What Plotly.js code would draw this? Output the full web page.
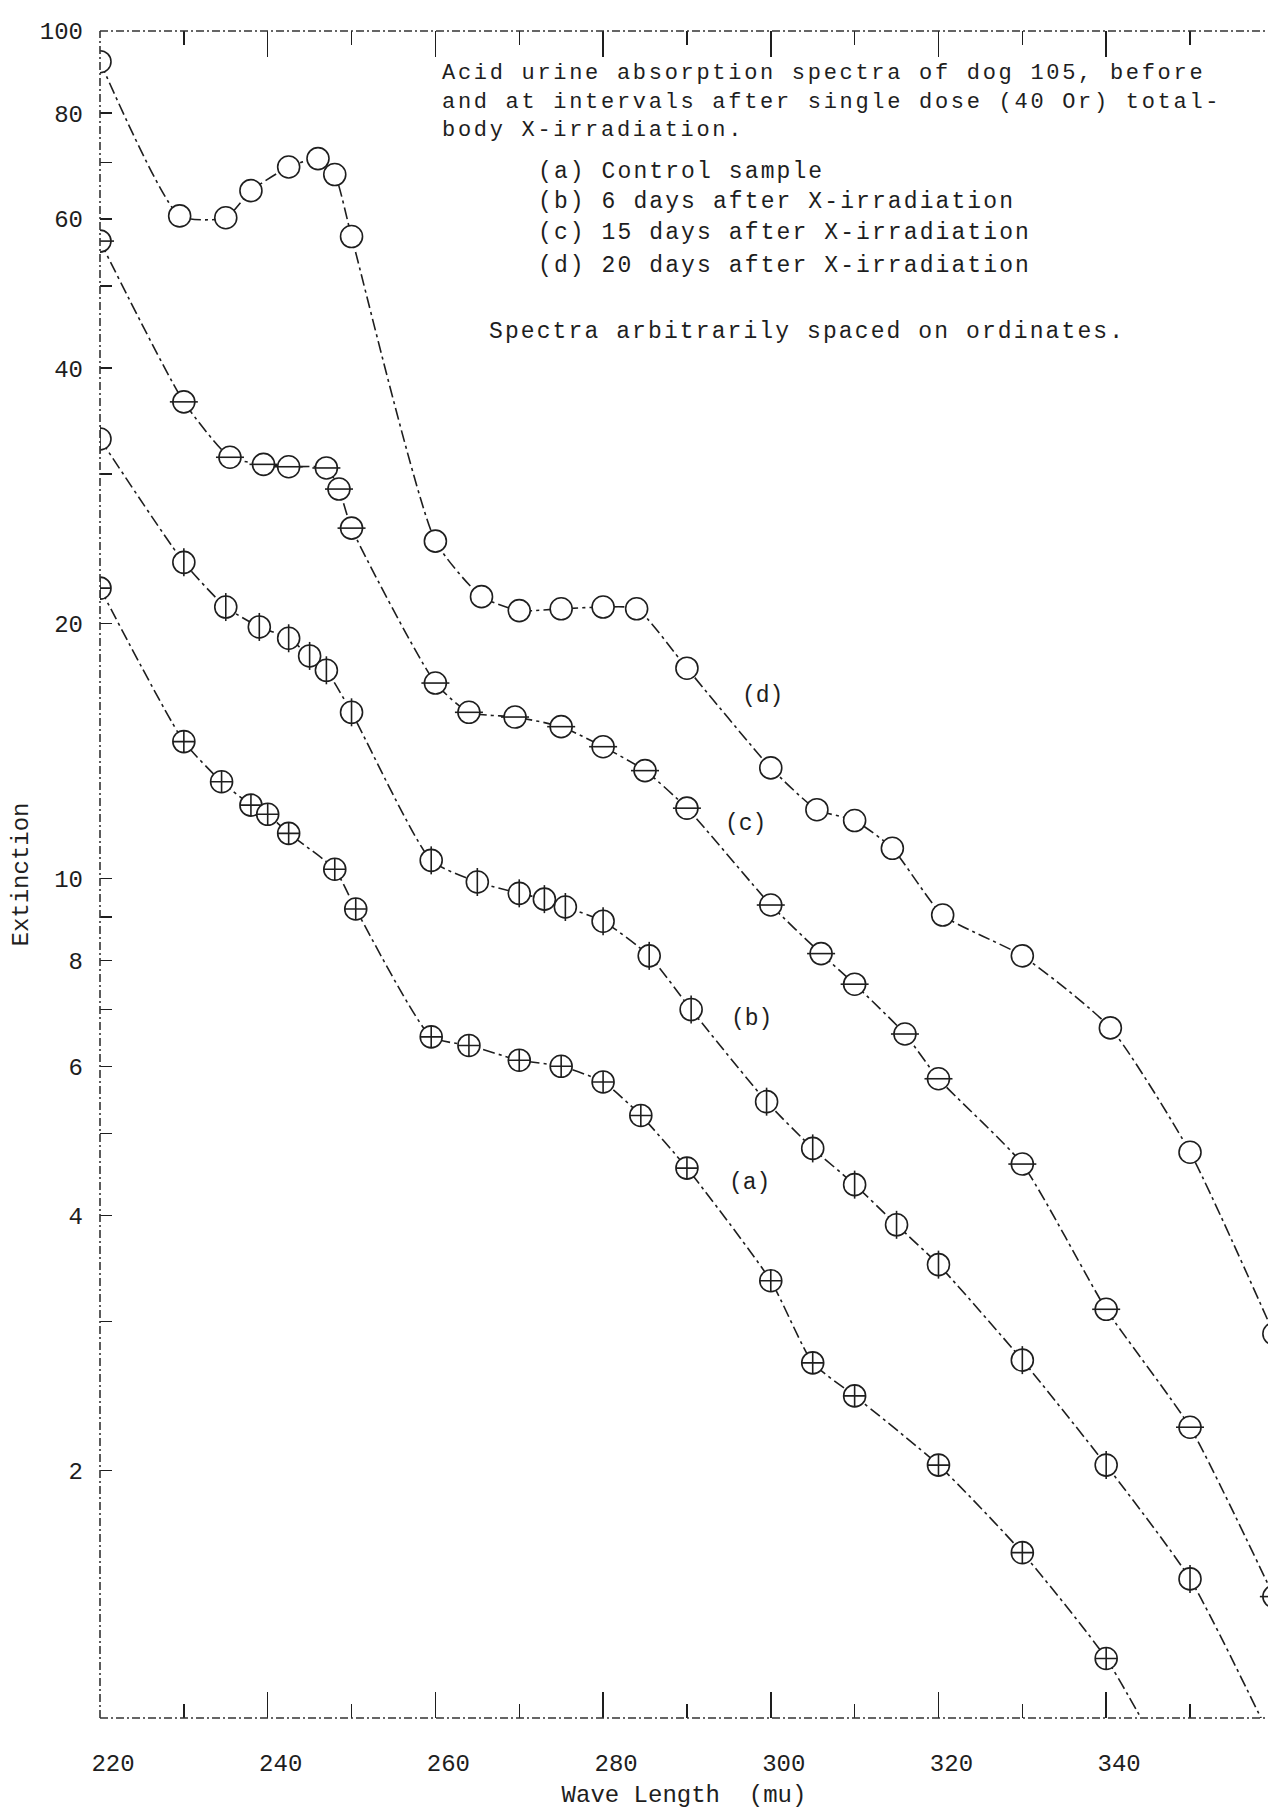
<!DOCTYPE html>
<html>
<head>
<meta charset="utf-8">
<script src="https://cdn.plot.ly/plotly-3.0.1.min.js"></script>
<style>
  html, body { margin: 0; padding: 0; background: #fff; }
  #chart { width: 1268px; height: 1809px; }
</style>
</head>
<body>
<div id="chart"></div>
<script>
// ---- data (wavelength in mu, extinction) ----
const wlA = [220, 230, 234.5, 238, 240, 242.5, 248, 250.5, 259.5, 264, 270, 275, 280, 284.5, 290, 300, 305, 310, 320, 330, 340, 350];
const extA = [22.0, 14.5, 13.0, 12.2, 11.9, 11.3, 10.25, 9.2, 6.5, 6.35, 6.1, 6.0, 5.75, 5.25, 4.55, 3.35, 2.68, 2.45, 2.03, 1.60, 1.20, 0.8];

const wlB = [220, 230, 235, 239, 242.5, 245, 247, 250, 259.5, 265, 270, 273, 275.5, 280, 285.5, 290.5, 299.5, 305, 310, 315, 320, 330, 340, 350, 360];
const extB = [33.0, 23.6, 20.9, 19.8, 19.2, 18.3, 17.6, 15.7, 10.5, 9.9, 9.6, 9.45, 9.25, 8.9, 8.1, 7.0, 5.45, 4.8, 4.35, 3.9, 3.5, 2.7, 2.03, 1.49, 0.95];

const wlC = [220, 230, 235.5, 239.5, 242.5, 247, 248.5, 250, 260, 264, 269.5, 275, 280, 285, 290, 300, 306, 310, 316, 320, 330, 340, 350, 360];
const extC = [56.5, 36.5, 31.4, 30.8, 30.6, 30.5, 28.8, 25.9, 17.0, 15.7, 15.5, 15.1, 14.3, 13.4, 12.1, 9.3, 8.15, 7.5, 6.55, 5.8, 4.6, 3.1, 2.25, 1.42];

const wlD = [220, 229.5, 235, 238, 242.5, 246, 248, 250, 260, 265.5, 270, 275, 280, 284, 290, 300, 305.5, 310, 314.5, 320.5, 330, 340.5, 350, 360];
const extD = [92, 60.5, 60.2, 64.8, 69.1, 70.7, 67.7, 57.2, 25.0, 21.5, 20.7, 20.8, 20.9, 20.8, 17.7, 13.5, 12.05, 11.7, 10.85, 9.05, 8.1, 6.66, 4.75, 2.9];

const seriesNames = ["(a) Control sample", "(b) 6 days after X-irradiation", "(c) 15 days after X-irradiation", "(d) 20 days after X-irradiation"];
const curveLabels = ["(a)", "(b)", "(c)", "(d)"];

const yTickVals = [2, 3, 4, 5, 6, 7, 8, 9, 10, 20, 30, 40, 50, 60, 70, 80, 100];
const yTickText = ["2", "", "4", "", "6", "", "8", "", "10", "20", "", "40", "", "60", "", "80", "100"];
const xTickVals = [220, 240, 260, 280, 300, 320, 340];

const captionLines = [
  "Acid urine absorption spectra of dog 105, before",
  "and at intervals after single dose (40 Or) total-",
  "body X-irradiation."
];
const keyLines = seriesNames;
const noteLine = "Spectra arbitrarily spaced on ordinates.";

// ---- styling ----
const INK = "#1e1e1e";
const FONT = "Liberation Mono, DejaVu Sans Mono, monospace";
const DASH = "12px,4px,3px,4px";

function typed(t, ls) { return '<span style="letter-spacing:' + ls + 'px">' + t + '</span>'; }

function curve(x, y, name, symbol) {
  return {
    x: x, y: y, name: name, type: "scatter", mode: "lines+markers",
    line: { color: INK, width: 1.6, dash: DASH, shape: "spline", smoothing: 0.55 },
    marker: { symbol: symbol, size: 22, color: "#ffffff", line: { color: INK, width: 1.6 } },
    cliponaxis: true, showlegend: false, hoverinfo: "x+y"
  };
}
function bars(x, y, symbol) {
  return {
    x: x, y: y, type: "scatter", mode: "markers",
    marker: { symbol: symbol, size: 20, color: INK, line: { color: INK, width: 1.6 } },
    cliponaxis: true, showlegend: false, hoverinfo: "skip"
  };
}

const traces = [
  curve(wlA, extA, seriesNames[0], "circle-cross"),
  curve(wlB, extB, seriesNames[1], "circle"),
  bars(wlB, extB, "line-ns-open"),
  curve(wlC, extC, seriesNames[2], "circle"),
  bars(wlC, extC, "line-ew-open"),
  curve(wlD, extD, seriesNames[3], "circle")
];

const annotations = [];
// caption block (3 lines, tight spacing)
annotations.push({
  text: captionLines.map(t => typed(t, 2.7)).join("<br>"),
  xref: "paper", yref: "paper", x: 0.2911, y: 0.9581,
  xanchor: "left", yanchor: "middle", align: "left", showarrow: false,
  font: { family: FONT, size: 22, color: INK }
});
const keyY = [0.9166, 0.8988, 0.8803, 0.8607];
keyLines.forEach((t, i) => annotations.push({
  text: typed(t, 2.1), xref: "paper", yref: "paper", x: 0.3733, y: keyY[i],
  xanchor: "left", yanchor: "middle", showarrow: false,
  font: { family: FONT, size: 23, color: INK }
}));
annotations.push({
  text: typed(noteLine, 2.1), xref: "paper", yref: "paper", x: 0.3313, y: 0.8218,
  xanchor: "left", yanchor: "middle", showarrow: false,
  font: { family: FONT, size: 23, color: INK }
});
const labelPos = [[297.5, 4.37], [297.7, 6.83], [297.0, 11.6], [299.0, 16.4]];
curveLabels.forEach((t, i) => annotations.push({
  text: t, xref: "x", yref: "y", x: labelPos[i][0], y: Math.log10(labelPos[i][1]),
  xanchor: "center", yanchor: "middle", showarrow: false,
  font: { family: FONT, size: 23, color: INK }
}));

const frame = { color: "#333", width: 1.6, dash: "8px,3px,2px,3px" };
const shapes = [
  { type: "line", xref: "paper", yref: "paper", x0: 0, x1: 0, y0: 0, y1: 1, line: frame },
  { type: "line", xref: "paper", yref: "paper", x0: 0, x1: 1, y0: 0, y1: 0, line: frame },
  { type: "line", xref: "paper", yref: "paper", x0: 0, x1: 1, y0: 1, y1: 1, line: frame }
];

const layout = {
  width: 1268, height: 1809,
  margin: { l: 100, r: 0, t: 31, b: 91 },
  paper_bgcolor: "#ffffff", plot_bgcolor: "#ffffff",
  font: { family: FONT, color: INK, size: 24 },
  showlegend: false,
  xaxis: {
    type: "linear", range: [220, 359.3],
    showgrid: false, zeroline: false, showline: false,
    tickvals: xTickVals, ticks: "inside", ticklen: 26, tickwidth: 1.5, tickcolor: INK,
    mirror: "ticks",
    minor: { dtick: 10, tick0: 220, ticks: "inside", ticklen: 14, tickwidth: 1.3, tickcolor: INK, showgrid: false },
    ticklabelstandoff: 28, ticklabelshift: 13,
    tickfont: { family: FONT, size: 24, color: INK },
    title: { text: "Wave Length  (mu)", font: { family: FONT, size: 24, color: INK }, standoff: 8 }
  },
  yaxis: {
    type: "log", range: [0.009, 2],
    showgrid: false, zeroline: false, showline: false,
    tickvals: yTickVals, ticktext: yTickText,
    ticks: "inside", ticklen: 12, tickwidth: 1.5, tickcolor: INK,
    ticklabelstandoff: 16,
    tickfont: { family: FONT, size: 24, color: INK },
    title: { text: "Extinction", font: { family: FONT, size: 24, color: INK }, standoff: 4 }
  },
  annotations: annotations,
  shapes: shapes
};

Plotly.newPlot("chart", traces, layout, { displayModeBar: false, staticPlot: true });
</script>
</body>
</html>
